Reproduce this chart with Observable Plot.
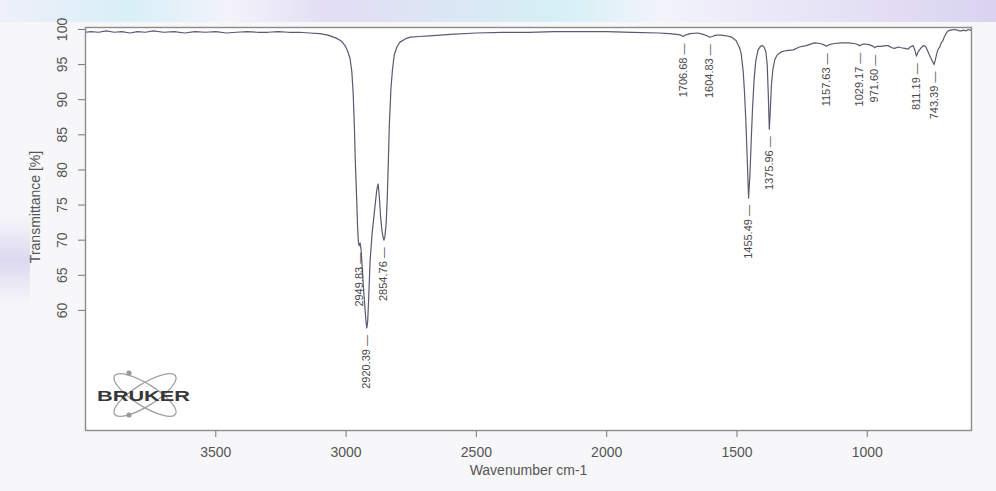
<!DOCTYPE html>
<html>
<head>
<meta charset="utf-8">
<script src="https://cdn.jsdelivr.net/npm/d3@7"></script>
<script src="https://cdn.jsdelivr.net/npm/@observablehq/plot@0.6"></script>
<style>
  html, body { margin: 0; padding: 0; }
  body {
    width: 996px; height: 491px; overflow: hidden; position: relative;
    background: #f7f7f9;
    font-family: "Liberation Sans", Arial, sans-serif;
  }
  #band {
    position: absolute; left: 0; top: 0; width: 996px; height: 22px;
    background: linear-gradient(90deg, #eef0fa 0px, #d8eff7 130px, #f3f3fb 230px, #e2ddf3 330px,
      #d5f0f6 560px, #f2f3fb 660px, #e3def4 880px, #d9d3f0 996px);
  }
  #leftpatch {
    position: absolute; left: 0; top: 215px; width: 30px; height: 90px;
    background: linear-gradient(180deg, rgba(220,214,240,0) 0%, rgba(214,208,238,0.8) 50%, rgba(220,214,240,0) 100%);
  }
  #chart { position: absolute; left: 0; top: 0; }
</style>
</head>
<body>
<div id="band"></div>
<div id="leftpatch"></div>
<div id="chart"></div>
<script>
// ---- Data ----
const wavenumber = [
  4000, 3980, 3950, 3920, 3890, 3860, 3830, 3800, 3770, 3740, 3700, 3660, 3620, 3580, 3540, 3500,
  3460, 3420, 3380, 3340, 3300, 3260, 3220, 3180, 3140, 3100, 3070, 3040, 3020, 3004, 2995, 2985,
  2978, 2973, 2968, 2965, 2960, 2956, 2953, 2949.83, 2946, 2942, 2938, 2932, 2927, 2923, 2920.39, 2917,
  2913, 2908, 2900, 2890, 2882, 2877, 2873, 2868, 2862, 2857, 2854.76, 2851, 2846, 2842, 2838, 2834,
  2828, 2822, 2815, 2805, 2793, 2770, 2754, 2720, 2680, 2600, 2500, 2400, 2300, 2200, 2100, 2000,
  1900, 1800, 1760, 1730, 1715, 1706.68, 1698, 1680, 1650, 1630, 1615, 1604.83, 1595, 1580, 1560, 1541,
  1520, 1503, 1490, 1484, 1476, 1471, 1466, 1461, 1455.49, 1450, 1445, 1440, 1434, 1428, 1419, 1410,
  1402, 1395, 1389, 1384, 1380, 1375.96, 1372, 1368, 1362, 1354, 1345, 1330, 1310, 1284, 1260, 1234,
  1203, 1180, 1165, 1157.63, 1148, 1127, 1100, 1073, 1050, 1040, 1029.17, 1018, 1004, 990, 977, 971.6,
  962, 946, 930, 920, 905, 896, 880, 870, 855, 843, 835, 824, 817, 811.19, 805, 793,
  785, 777, 770, 762, 752, 743.39, 738, 733, 728, 722, 716, 710, 705, 698, 690, 680,
  666, 655, 645, 640, 630, 620, 613, 605, 600
];
const transmittance = [
  99.6, 99.7, 99.6, 99.8, 99.6, 99.7, 99.5, 99.7, 99.6, 99.8, 99.6, 99.7, 99.5, 99.7, 99.6, 99.7,
  99.5, 99.6, 99.7, 99.6, 99.6, 99.7, 99.6, 99.6, 99.5, 99.4, 99.2, 98.8, 98.4, 97.7, 97.0, 95.9,
  94.0, 91.0, 86.0, 81.6, 76.5, 72.0, 69.8, 69.2, 69.6, 68.5, 66.0, 62.5, 60.0, 58.2, 57.5, 58.5,
  62.0, 67.0, 71.0, 74.5, 77.2, 78.0, 76.5, 73.5, 71.2, 70.3, 70.0, 70.5, 72.5, 76.0, 81.0, 86.5,
  91.5, 94.3, 96.4, 97.5, 98.2, 98.7, 98.9, 99.0, 99.1, 99.3, 99.5, 99.6, 99.6, 99.7, 99.7, 99.7,
  99.6, 99.5, 99.4, 99.3, 99.2, 99.0, 99.2, 99.4, 99.5, 99.3, 99.1, 98.9, 99.0, 99.2, 99.2, 99.1,
  98.9, 98.4, 97.4, 96.6, 94.0, 91.0, 87.0, 82.0, 76.0, 79.5, 84.5, 89.0, 93.0, 95.5, 97.1, 97.6,
  97.7, 97.4, 96.8, 95.0, 91.0, 85.8, 88.5, 92.0, 94.4, 95.8, 96.4, 96.8, 97.0, 97.1, 97.5, 97.7,
  98.1, 98.0, 97.8, 97.6, 97.8, 98.0, 98.1, 98.1, 98.0, 97.9, 97.7, 97.9, 97.9, 97.8, 97.6, 97.4,
  97.6, 97.6, 97.7, 97.7, 97.4, 97.3, 97.5, 97.4, 97.3, 97.2, 97.5, 97.7, 97.0, 96.2, 96.8, 97.4,
  97.7, 97.6, 97.1, 96.4, 95.6, 95.0, 95.8, 96.6, 97.2, 97.5, 98.1, 98.4, 98.9, 99.4, 99.8, 99.9,
  100.0, 99.9, 99.8, 99.8, 99.9, 99.8, 100.0, 99.9, 99.9
];
const peakWavenumber = [2949.83, 2920.39, 2854.76, 1706.68, 1604.83, 1455.49, 1375.96, 1157.63, 1029.17, 971.60, 811.19, 743.39];
const peakTransmittance = [69.2, 57.5, 70.0, 99.0, 98.9, 76.0, 85.8, 97.6, 97.7, 97.4, 96.2, 95.0];
const peakLabels = ["2949.83", "2920.39", "2854.76", "1706.68", "1604.83", "1455.49", "1375.96", "1157.63", "1029.17", "971.60", "811.19", "743.39"];
const xTicks = [3500, 3000, 2500, 2000, 1500, 1000];
const yTicks = [60, 65, 70, 75, 80, 85, 90, 95, 100];
const xTitle = "Wavenumber cm-1";
const yTitle = "Transmittance [%]";

const spectrum = wavenumber.map((w, i) => ({w, t: transmittance[i]}));
const peaks = peakWavenumber.map((w, i) => ({w, t: peakTransmittance[i], label: peakLabels[i]}));

const FONT = "Liberation Sans, Arial, sans-serif";
const textGrey = "#555";

const chart = Plot.plot({
  width: 996,
  height: 491,
  marginLeft: 85,
  marginRight: 25,
  marginTop: 27,
  marginBottom: 61,
  style: {background: "transparent", fontFamily: FONT},
  x: {domain: [4000, 600]},
  y: {domain: [42.9, 100.28]},
  marks: [
    Plot.frame({fill: "white", stroke: "none"}),
    Plot.axisX({ticks: xTicks, tickFormat: d => String(d), tickSize: 7, tickPadding: 10, fontSize: 14, color: textGrey,
      stroke: "#777", label: xTitle, labelAnchor: "center", labelOffset: 44, labelArrow: "none"}),
    Plot.axisY({ticks: yTicks, tickFormat: d => String(d), tickSize: 7, tickRotate: -90, tickPadding: 12, fontSize: 14,
      color: textGrey, stroke: "#777", label: null}),
    Plot.text([yTitle], {frameAnchor: "left", textAnchor: "middle", dx: -50, dy: -22, rotate: -90, text: d => d,
      fontSize: 14, fill: textGrey}),
    Plot.line(spectrum, {x: "w", y: "t", stroke: "#5c5870", strokeWidth: 1.2}),
    Plot.text(peaks, {x: "w", y: "t", text: d => d.label + " \u2014", rotate: -90, textAnchor: "end",
      dy: 7, fontSize: 11, fill: "#4a4a4a"}),
    Plot.frame({stroke: "#8c8c8c", strokeWidth: 1.4})
  ]
});

document.getElementById("chart").appendChild(chart);

// Decorative BRUKER logo in the lower left corner of the frame
const svg = d3.select(chart);
const lx = 85 + 60, ly = 491 - 61 - 35;
const logo = svg.append("g").attr("transform", `translate(${lx},${ly})`);
logo.append("ellipse").attr("rx", 36).attr("ry", 11).attr("transform", "rotate(32)")
  .attr("fill", "none").attr("stroke", "#a0a0a0").attr("stroke-width", 1.3);
logo.append("ellipse").attr("rx", 36).attr("ry", 11).attr("transform", "rotate(-32)")
  .attr("fill", "none").attr("stroke", "#a0a0a0").attr("stroke-width", 1.3);
logo.append("circle").attr("cx", -16).attr("cy", -22).attr("r", 2.6).attr("fill", "#9a9a9a");
logo.append("circle").attr("cx", -16).attr("cy", 20).attr("r", 2.6).attr("fill", "#9a9a9a");
logo.append("text").attr("x", -48).attr("y", 6).attr("text-anchor", "start")
  .attr("textLength", 93).attr("lengthAdjust", "spacingAndGlyphs")
  .attr("font-size", 15).attr("font-weight", "bold").attr("fill", "#383838")
  .attr("font-family", FONT).text("BRUKER");
</script>
</body>
</html>
